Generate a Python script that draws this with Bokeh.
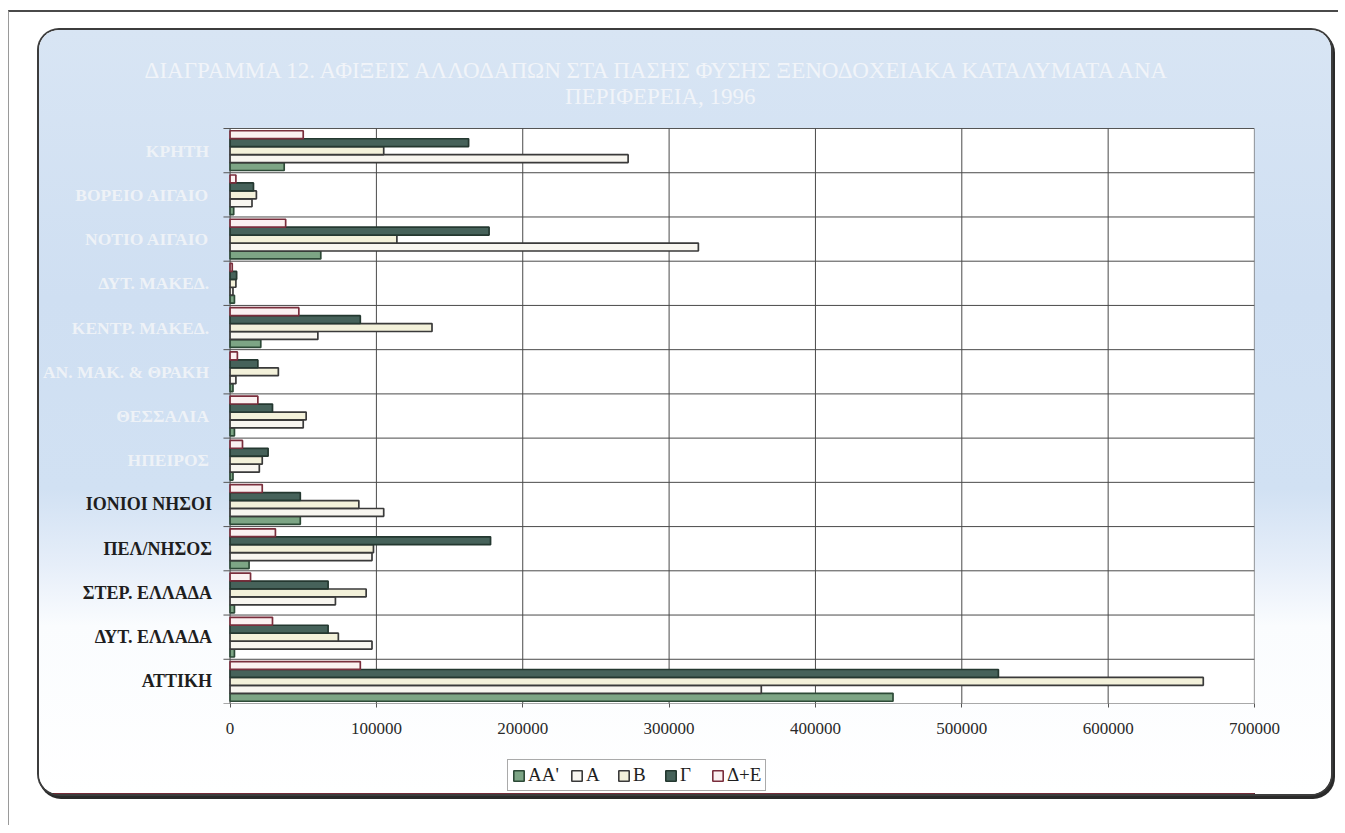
from bokeh.plotting import figure
from bokeh.models import (Range1d, FixedTicker, NumeralTickFormatter, Legend,
                          LegendItem, ColumnDataSource)
from bokeh.core.properties import value
from bokeh.transform import dodge
from bokeh.layouts import column
from bokeh.embed import file_html
from bokeh.resources import INLINE

# ---------------- data ----------------
regions = ["ΑΤΤΙΚΗ", "ΔΥΤ. ΕΛΛΑΔΑ", "ΣΤΕΡ. ΕΛΛΑΔΑ", "ΠΕΛ/ΝΗΣΟΣ", "ΙΟΝΙΟΙ ΝΗΣΟΙ",
           "ΗΠΕΙΡΟΣ", "ΘΕΣΣΑΛΙΑ", "ΑΝ. ΜΑΚ. & ΘΡΑΚΗ", "ΚΕΝΤΡ. ΜΑΚΕΔ.", "ΔΥΤ. ΜΑΚΕΔ.",
           "ΝΟΤΙΟ ΑΙΓΑΙΟ", "ΒΟΡΕΙΟ ΑΙΓΑΙΟ", "ΚΡΗΤΗ"]
series_names = ["ΑΑ'", "Α", "Β", "Γ", "Δ+Ε"]
aa = [453000, 3000, 3000, 13000, 48000, 2000, 3000, 2000, 21000, 3000, 62000, 2500, 37000]
a = [363000, 97000, 72000, 97000, 105000, 20000, 50000, 4000, 60000, 2000, 320000, 15000, 272000]
b = [665000, 74000, 93000, 98000, 88000, 22000, 52000, 33000, 138000, 4000, 114000, 18000, 105000]
g = [525000, 67000, 67000, 178000, 48000, 26000, 29000, 19000, 89000, 4500, 177000, 16000, 163000]
de = [89000, 29000, 14000, 31000, 22000, 8500, 19000, 5000, 47000, 1500, 38000, 4000, 50000]
x_ticks = [0, 100000, 200000, 300000, 400000, 500000, 600000, 700000]
title_lines = ["ΔΙΑΓΡΑΜΜΑ 12. ΑΦΙΞΕΙΣ ΑΛΛΟΔΑΠΩΝ ΣΤΑ ΠΑΣΗΣ ΦΥΣΗΣ ΞΕΝΟΔΟΧΕΙΑΚΑ ΚΑΤΑΛΥΜΑΤΑ ΑΝΑ",
               "ΠΕΡΙΦΕΡΕΙΑ, 1996"]
n_dark_labels = 5   # lower labels are printed dark, upper ones are faded white

n = len(regions)
idx = list(range(n))
src = ColumnDataSource(dict(idx=idx, region=regions, aa=aa, a=a, b=b, g=g, de=de))

SERIF = "Liberation Serif"
x_lo, x_hi = x_ticks[0], x_ticks[-1]
y_lo, y_hi = -0.5, n - 0.5

PANEL_W, PANEL_H = 1292, 764
MAIN_H, AXIS_H = 713, 40

styles = [
    ("aa", "#7da585", "#2d4a37"),
    ("a", "#f8f6f0", "#3a3a3a"),
    ("b", "#f3f1da", "#3a3a3a"),
    ("g", "#46625a", "#243830"),
    ("de", "#fbf1f1", "#7a2e3c"),
]

p = figure(width=PANEL_W, height=MAIN_H,
           x_range=Range1d(-130200, x_hi), y_range=Range1d(y_lo, 14.716),
           y_axis_location=None,
           output_backend="svg", toolbar_location=None,
           min_border_left=0, min_border_right=77, min_border_top=0,
           min_border_bottom=AXIS_H,
           background_fill_color=None, border_fill_color=None,
           outline_line_color=None)
p.grid.visible = False

# plot area
p.quad(left=x_lo, right=x_hi, bottom=y_lo, top=y_hi, fill_color="white",
       line_color="#555555", line_width=1.2)
# vertical grid lines
p.segment(x0=x_ticks[1:-1], y0=y_lo, x1=x_ticks[1:-1], y1=y_hi, line_color="#4a4a4a", line_width=1)
# horizontal category separators
seps = [i + 0.5 for i in range(n - 1)]
p.segment(x0=x_lo, y0=seps, x1=x_hi, y1=seps, line_color="#4a4a4a", line_width=1)
# small outward ticks on the category axis
all_seps = [i - 0.5 for i in range(n + 1)]
p.segment(x0=-4500, y0=all_seps, x1=x_lo, y1=all_seps, line_color="#555555", line_width=1)

bar_h = 0.178
for k, (col, fill, line) in enumerate(styles):
    off = (k - 2) * 0.18
    p.hbar(y=dodge("idx", off, range=p.y_range), left=0, right=col, height=bar_h,
           source=src, fill_color=fill, line_color=line, line_width=1.7)

# category labels
dark_src = ColumnDataSource(dict(y=idx[:n_dark_labels], t=regions[:n_dark_labels]))
fade_src = ColumnDataSource(dict(y=idx[n_dark_labels:], t=regions[n_dark_labels:]))
p.text(x=x_lo, y="y", text="t", source=dark_src, x_offset=-18, text_align="right",
       text_baseline="middle", text_font=value(SERIF), text_font_style="bold",
       text_font_size="18px", text_color="#1e1e1e")
p.text(x=x_lo, y="y", text="t", source=fade_src, x_offset=-21, text_align="right",
       text_baseline="middle", text_font=value(SERIF), text_font_style="bold",
       text_font_size="17.5px", text_color="#eef2f7")

# title (faded white)
p.text(x=294000, y=[13.81, 13.22], text=title_lines, text_align="center",
       text_baseline="middle", text_font=value(SERIF), text_font_size="23px",
       text_color="#f1f4f9")

# x axis
p.xaxis.ticker = FixedTicker(ticks=x_ticks)
p.xaxis.formatter = NumeralTickFormatter(format="0")
p.xaxis.major_label_text_font = SERIF
p.xaxis.major_label_text_font_size = "17px"
p.xaxis.major_label_text_color = "#2a2a2a"
p.xaxis.axis_line_color = None
p.xaxis.major_tick_line_color = "#555555"
p.xaxis.major_tick_out = 4
p.xaxis.major_tick_in = 0
p.xaxis.minor_tick_line_color = None
p.xaxis.major_label_standoff = 15

# legend strip below the chart (its key renderers use the same data, kept out of view)
lg = figure(width=PANEL_W, height=PANEL_H - MAIN_H, x_range=Range1d(0, 1),
            y_range=Range1d(n + 1, n + 2),
            x_axis_location=None, y_axis_location=None,
            output_backend="svg", toolbar_location=None, min_border=0,
            background_fill_color=None, border_fill_color=None, outline_line_color=None)
lg.grid.visible = False
keys = []
for col, fill, line in styles:
    keys.append(lg.hbar(y="idx", left=0, right=col, height=bar_h, source=src,
                        fill_color=fill, line_color=line, line_width=1.6))

legend = Legend(items=[LegendItem(label=nm, renderers=[r]) for nm, r in zip(series_names, keys)],
                orientation="horizontal", location=(468, 3),
                label_text_font=SERIF, label_text_font_size="19px", label_text_color="#1e1e1e",
                label_height=18, glyph_width=13, glyph_height=13, spacing=11, padding=4, margin=0,
                label_standoff=3, border_line_color="#555555", border_line_width=1,
                background_fill_color="white", background_fill_alpha=1)
lg.add_layout(legend)

panel = column(p, lg, width=PANEL_W, height=PANEL_H, margin=(18, 0, 0, 30), spacing=0,
               styles={
                   "background": "linear-gradient(180deg, #d8e5f4 0%, #cfdff2 35%, #d1e1f3 60%, "
                                 "#e6eef9 70%, #fafcfe 78%, #ffffff 100%)",
                   "border-radius": "20px",
                   "box-shadow": "0 0 0 2px #3c3c3c, 2px 3px 0 2px #2a2a2a",
                   "overflow": "hidden",
               })

page = column(panel, width=1330, height=815, margin=(10, 0, 0, 8),
              styles={"border-top": "2px solid #4a4a4a", "border-left": "1px solid #9a9a9a"})

open("out.html", "w").write(file_html(page, INLINE))
